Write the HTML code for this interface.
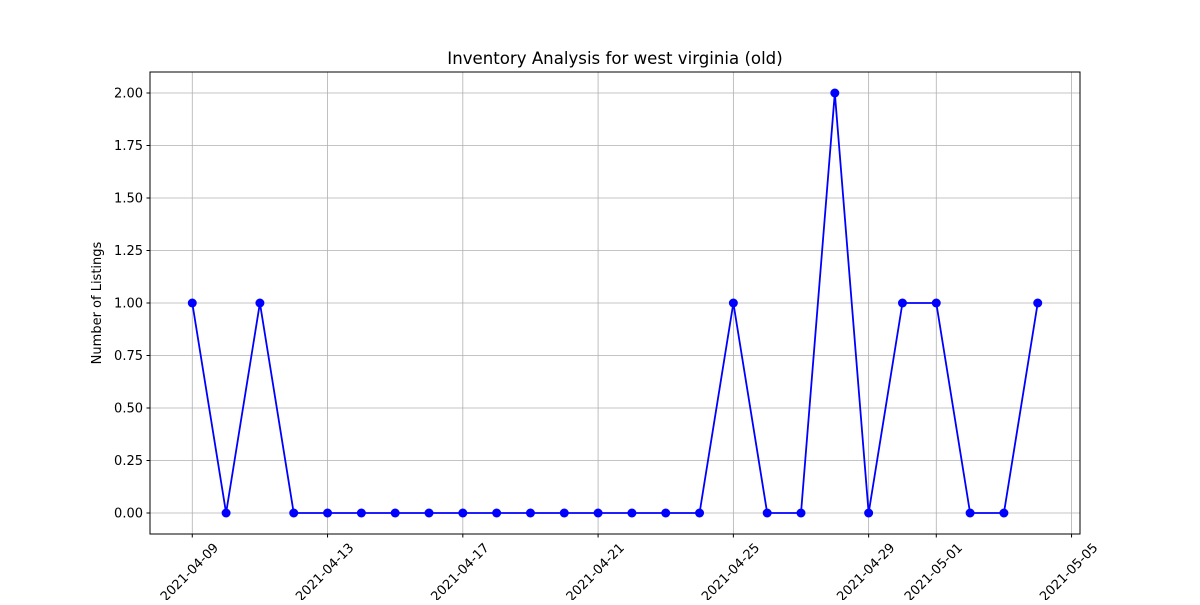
<!DOCTYPE html>
<html><head><meta charset="utf-8"><style>
body{margin:0;background:#fff}
svg text{font-family:"DejaVu Sans","Liberation Sans",sans-serif;fill:#000}
</style></head><body>
<svg id="chart" width="1200" height="600">
<text x="615" y="64" font-size="16.6" text-anchor="middle">Inventory Analysis for west virginia (old)</text>
<text transform="translate(101,303) rotate(-90)" font-size="13" text-anchor="middle">Number of Listings</text>
<g id="grid"></g><g id="ticks"></g><g id="series"></g>
<rect x="150" y="72" width="930" height="462" fill="none" stroke="#000" stroke-width="1"/>
</svg>
<script>
const values=[1,0,1,0,0,0,0,0,0,0,0,0,0,0,0,0,1,0,0,2,0,1,1,0,0,1];
const startDate="2021-04-09";
const xTickLabels=["2021-04-09","2021-04-13","2021-04-17","2021-04-21","2021-04-25","2021-04-29","2021-05-01","2021-05-05"];
const xTickDays=[0,4,8,12,16,20,22,26];
const yTicks=[0,0.25,0.5,0.75,1,1.25,1.5,1.75,2];
const NS="http://www.w3.org/2000/svg";
const L=150,R=1080,T=72,B=534;
const x=d=>L+(d+1.25)/(26-1+2.5)*(R-L);
const y=v=>B-(v+0.1)/2.2*(B-T);
function mk(tag,attrs,parent){const e=document.createElementNS(NS,tag);for(const k in attrs)e.setAttribute(k,attrs[k]);document.getElementById(parent).appendChild(e);return e;}
yTicks.forEach(v=>{
 const g=mk('line',{x1:L,x2:R,y1:y(v),y2:y(v),stroke:'#b0b0b0','stroke-width':0.8},'grid');
 
 
 mk('line',{x1:L-3.5,x2:L,y1:y(v),y2:y(v),stroke:'#000'},'ticks');
 const t=mk('text',{x:L-7,y:y(v)+4.5,'font-size':13,'text-anchor':'end'},'ticks');
 t.textContent=v.toFixed(2);
 
 
});
xTickDays.forEach((d,i)=>{
 const g=mk('line',{x1:x(d),x2:x(d),y1:T,y2:B,stroke:'#b0b0b0','stroke-width':0.8},'grid');
 
 
 mk('line',{x1:x(d),x2:x(d),y1:B,y2:B+3.5,stroke:'#000'},'ticks');
 const cx=x(d)-3,cy=572;
 const t=mk('text',{x:cx,y:cy+4.5,'font-size':13,'text-anchor':'middle',transform:`rotate(-45 ${cx} ${cy})`},'ticks');
 t.textContent=xTickLabels[i];
 
 
});
const pts=values.map((v,i)=>x(i)+','+y(v)).join(' ');
const pl=mk('polyline',{points:pts,fill:'none',stroke:'#0000ff','stroke-width':1.8},'series');


values.forEach((v,i)=>{
 const c=mk('circle',{cx:x(i),cy:y(v),r:4.5,fill:'#0000ff'},'series');
 
 
});
</script>
</body></html>
